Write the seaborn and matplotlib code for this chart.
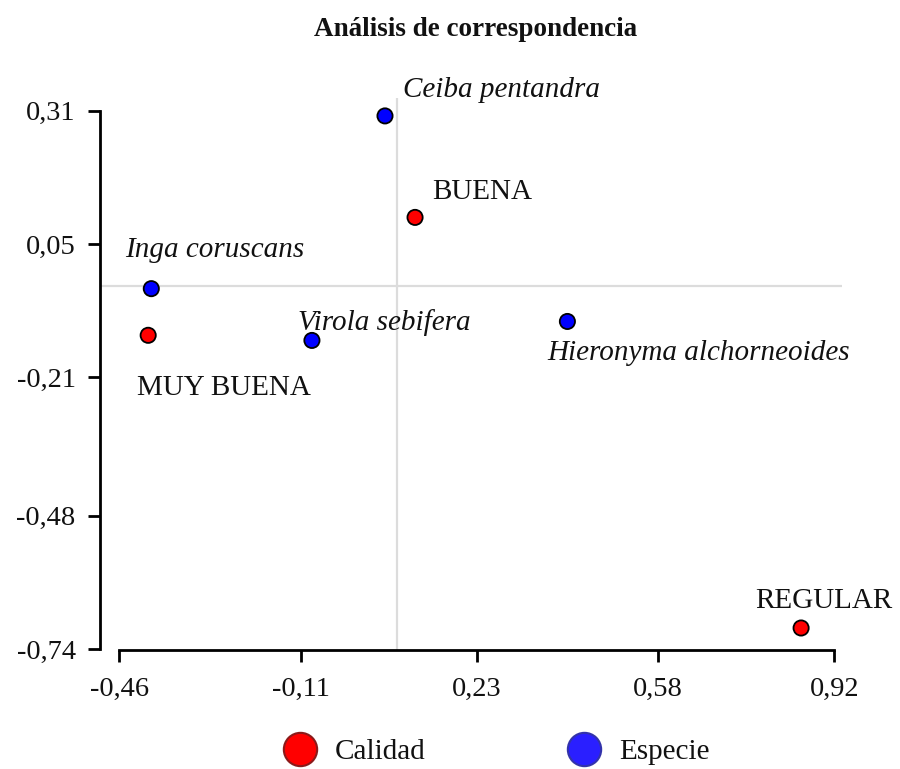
#!/usr/bin/env python3
import matplotlib

matplotlib.use("Agg")
import matplotlib.pyplot as plt
import pandas as pd
import seaborn as sns
from matplotlib.lines import Line2D

# --- data ------------------------------------------------------------------
names = ["Ceiba pentandra", "BUENA", "Inga coruscans", "MUY BUENA",
         "Virola sebifera", "Hieronyma alchorneoides", "REGULAR"]
groups = ["Especie", "Calidad", "Especie", "Calidad",
          "Especie", "Especie", "Calidad"]
dim1 = [0.053, 0.111, -0.398, -0.404, -0.088, 0.405, 0.856]
dim2 = [0.300, 0.102, -0.037, -0.128, -0.138, -0.101, -0.699]

x_ticks = [-0.46, -0.11, 0.23, 0.58, 0.92]
x_labels = ["-0,46", "-0,11", "0,23", "0,58", "0,92"]
y_ticks = [-0.74, -0.48, -0.21, 0.05, 0.31]
y_labels = ["-0,74", "-0,48", "-0,21", "0,05", "0,31"]

ref_x, ref_y = 0.077, -0.031

# label offsets in pixels (text anchor relative to point)
label_off = [(18, 26), (17, 25), (-26, 39), (-11, -53),
             (-14, 18), (-20, -32), (-46, 27)]

RED = "#ff0000"
BLUE = "#0000ff"
INK = "#111111"

sns.set_style("ticks")
plt.rcParams["font.family"] = ["Liberation Serif", "DejaVu Serif"]

df = pd.DataFrame({"name": names, "grupo": groups, "x": dim1, "y": dim2})

fig = plt.figure(figsize=(9, 7.69), dpi=100)
ax = fig.add_axes([0.1111, 0.1547, 0.8245, 0.7179])

ax.axvline(ref_x, color="#dcdcdc", lw=1.6, zorder=1)
ax.axhline(ref_y, color="#dcdcdc", lw=1.6, zorder=1)

sns.scatterplot(data=df, x="x", y="y", hue="grupo",
                palette={"Calidad": RED, "Especie": BLUE},
                s=120, edgecolor="black", linewidth=1.3,
                legend=False, zorder=3, ax=ax)

for i, row in df.iterrows():
    italic = row["grupo"] == "Especie"
    ax.annotate(row["name"], (row["x"], row["y"]),
                xytext=label_off[i], textcoords="offset pixels",
                ha="left", va="center", fontsize=21, color=INK,
                style="italic" if italic else "normal")

ax.set_xlim(-0.497, 0.935)
ax.set_ylim(-0.742, 0.335)
ax.set_xticks(x_ticks)
ax.set_xticklabels(x_labels)
ax.set_yticks(y_ticks)
ax.set_yticklabels(y_labels)
ax.set_xlabel("")
ax.set_ylabel("")

for side in ["top", "right"]:
    ax.spines[side].set_visible(False)
ax.spines["bottom"].set_bounds(-0.46, 0.92)
ax.spines["left"].set_bounds(-0.74, 0.31)
for side in ["bottom", "left"]:
    ax.spines[side].set_linewidth(2.0)
    ax.spines[side].set_color("black")
ax.tick_params(axis="both", direction="out", length=8.5, width=2.0,
               labelsize=20.5, colors="black", labelcolor=INK)
ax.tick_params(axis="y", pad=9)
ax.tick_params(axis="x", pad=11)

fig.text(476 / 900, 1 - 30 / 769, "Análisis de correspondencia",
         ha="center", va="center", fontsize=19.5, weight="bold", color=INK)

handles = [
    Line2D([], [], ls="none", marker="o", markersize=24,
           markerfacecolor=RED, markeredgecolor="#8b1a1a", markeredgewidth=1.5),
    Line2D([], [], ls="none", marker="o", markersize=24,
           markerfacecolor="#2a1fff", markeredgecolor="#3333aa", markeredgewidth=1.5),
]
fig.legend(handles, ["Calidad", "Especie"], ncol=2, frameon=False,
           loc="center left", bbox_to_anchor=(285 / 900, 17 / 769),
           borderaxespad=0, borderpad=0, handlelength=1.0,
           handletextpad=0.7, columnspacing=4.95, fontsize=21,
           labelcolor=INK)

fig.savefig("out.png", dpi=100)
